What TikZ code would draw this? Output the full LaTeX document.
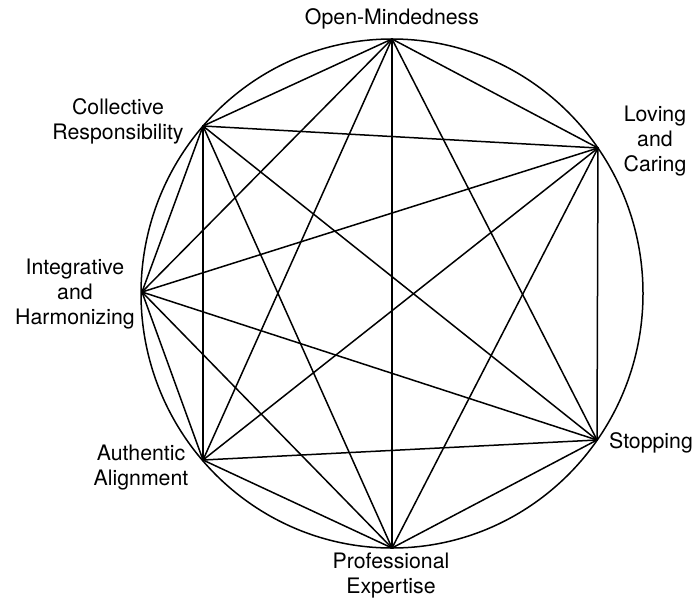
\documentclass[tikz,border=0pt]{standalone}
\usepackage{fontspec}
\setmainfont{TeX Gyre Heros}
\begin{document}
\begin{tikzpicture}[x=1pt,y=-1pt,
  edge/.style={line width=1.5pt, line cap=round},
  rim/.style={line width=1.5pt},
  lbl/.style={align=center, inner sep=0pt, font=\fontsize{21.3}{25}\selectfont}]
\useasboundingbox (0,0) rectangle (696,598);
\fill[white] (0,0) rectangle (696,598);
% vertices
\coordinate (O) at (392,39);
\coordinate (L) at (598,148);
\coordinate (S) at (597,440);
\coordinate (P) at (392,548);
\coordinate (A) at (203,460);
\coordinate (I) at (142,292);
\coordinate (C) at (203,126);
% rim
\draw[rim] (392,293.5) ellipse [x radius=251, y radius=254.5];
% all edges
\foreach \a/\b in {O/L,O/S,O/P,O/A,O/I,O/C,
                   L/S,L/P,L/A,L/I,L/C,
                   S/P,S/A,S/I,S/C,
                   P/A,P/I,P/C,
                   A/I,A/C,
                   I/C}
  \draw[edge] (\a) -- (\b);
% labels
\node[lbl] (tO) at (392,19) {Open-Mindedness};
\node[lbl] (tL) at (655,141) {Loving\\and\\Caring};
\node[lbl] (tS) at (651,443) {Stopping};
\node[lbl] (tP) at (391,576) {Professional\\Expertise};
\node[lbl] (tA) at (141,468) {Authentic\\Alignment};
\node[lbl] (tI) at (75,294) {Integrative\\and\\Harmonizing};
\node[lbl] (tC) at (118,121) {Collective\\Responsibility};
\end{tikzpicture}
\end{document}
